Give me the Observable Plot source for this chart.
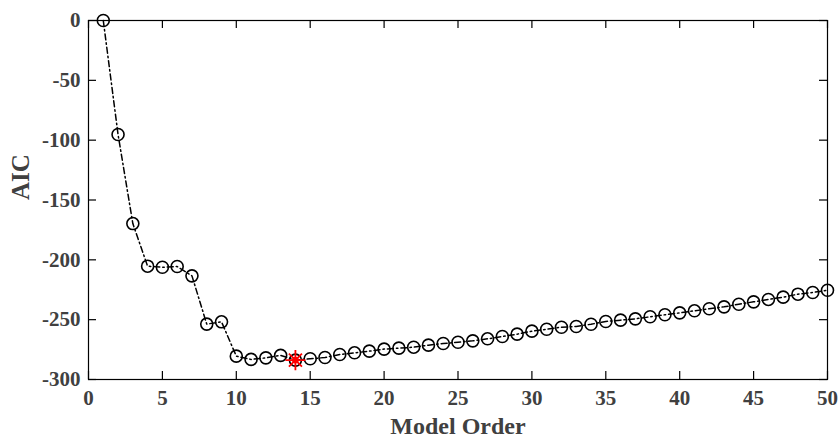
<!DOCTYPE html>
<html>
<head>
<meta charset="utf-8">
<script src="https://cdn.jsdelivr.net/npm/d3@7"></script>
<script src="https://cdn.jsdelivr.net/npm/@observablehq/plot@0.6"></script>
<style>
  html, body { margin: 0; padding: 0; background: #fff; }
  #chart svg { display: block; }
</style>
</head>
<body>
<div id="chart"></div>
<script>
const orders = d3.range(1, 51);
const aic = [
  0, -95.3, -169.7, -205.3, -206.2, -205.6, -213.4, -253.7, -251.8, -280.5,
  -283.2, -281.9, -279.8, -283.8, -282.7, -281.6, -279.1, -277.7, -276.3, -274.6,
  -273.8, -273.0, -271.3, -269.9, -268.9, -267.7, -266.0, -264.1, -262.1, -259.6,
  -258.0, -256.3, -255.7, -253.8, -251.5, -250.4, -249.3, -247.6, -245.9, -244.3,
  -242.6, -240.9, -239.3, -237.1, -235.1, -233.1, -231.2, -228.7, -227.3, -225.4
];
const bestOrder = [14];
const xTicks = d3.range(0, 51, 5);
const yTicks = [0, -50, -100, -150, -200, -250, -300];
const xDomain = [0, 50];
const yDomain = [-300, 0];

const data = orders.map((o, i) => ({order: o, aic: aic[i]}));
const best = data.filter(d => bestOrder.includes(d.order));

const W = 839, H = 439, ML = 88, MR = 12, MT = 20, MB = 60;
const plotW = W - ML - MR, plotH = H - MT - MB;
const tk = 8; // tick length in pixels, expressed below in data units
const tkY = tk * (yDomain[1] - yDomain[0]) / plotH;
const tkX = tk * (xDomain[1] - xDomain[0]) / plotW;

const font = "'Liberation Serif', 'Times New Roman', serif";
const textColor = "#404040";
const fmt = d => String(d);

const chart = Plot.plot({
  width: W,
  height: H,
  marginLeft: ML,
  marginRight: MR,
  marginTop: MT,
  marginBottom: MB,
  style: {fontFamily: font, fontWeight: "bold", background: "#fff"},
  x: {domain: xDomain},
  y: {domain: yDomain},
  marks: [
    // tick labels
    Plot.axisX({anchor: "bottom", ticks: xTicks, tickFormat: fmt, tickSize: 0, tickPadding: 11, fontSize: 21,
      fill: textColor, label: null}),
    Plot.axisY({anchor: "left", ticks: yTicks, tickFormat: fmt, tickSize: 0, tickPadding: 8, fontSize: 21,
      fill: textColor, label: null}),
    Plot.text(["Model Order"], {frameAnchor: "bottom", dy: 54, fontSize: 24, fill: textColor, lineAnchor: "bottom"}),
    Plot.text(["AIC"], {frameAnchor: "left", dx: -68, rotate: -90, fontSize: 25, fill: textColor}),
    Plot.frame({stroke: "black", strokeWidth: 1.2}),
    // inward tick marks (box style)
    Plot.ruleX(xTicks, {x: d => d, y1: yDomain[0], y2: yDomain[0] + tkY, stroke: "black", strokeWidth: 1.2}),
    Plot.ruleX(xTicks, {x: d => d, y1: yDomain[1], y2: yDomain[1] - tkY, stroke: "black", strokeWidth: 1.2}),
    Plot.ruleY(yTicks, {y: d => d, x1: xDomain[0], x2: xDomain[0] + tkX, stroke: "black", strokeWidth: 1.2}),
    Plot.ruleY(yTicks, {y: d => d, x1: xDomain[1], x2: xDomain[1] - tkX, stroke: "black", strokeWidth: 1.2}),
    Plot.line(data, {x: "order", y: "aic", stroke: "black", strokeWidth: 1.5, strokeDasharray: "6,3,1.5,3"}),
    Plot.dot(data, {x: "order", y: "aic", r: 6, stroke: "black", strokeWidth: 1.6, fill: "none"}),
    Plot.dot(best, {x: "order", y: "aic", symbol: "plus", r: 6.5, stroke: "red", strokeWidth: 1.8}),
    Plot.dot(best, {x: "order", y: "aic", symbol: "times", r: 6, stroke: "red", strokeWidth: 1.8}),
    Plot.dot(best, {x: "order", y: "aic", r: 3, stroke: "red", fill: "red", strokeWidth: 1})
  ]
});
document.getElementById("chart").appendChild(chart);
</script>
</body>
</html>
